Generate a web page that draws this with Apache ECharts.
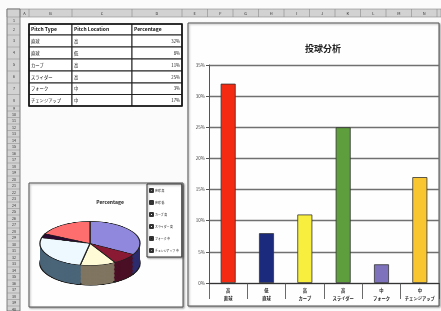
<!DOCTYPE html>
<html>
<head>
<meta charset="utf-8">
<script src="https://cdn.jsdelivr.net/npm/echarts@6/dist/echarts.min.js"></script>
<style>
  html, body { margin: 0; padding: 0; background: #fbfbfb; }
  #main { position: absolute; left: 0; top: 0; width: 441px; height: 311px; }
  /* the 3D pie: drawn round, squashed by css */
  #pie { position: absolute; left: 30px; top: 217px; width: 120px; height: 180px;
         transform: scaleY(0.44); transform-origin: 0 0; }
</style>
</head>
<body>
<div id="main"></div>
<div id="pie"></div>
<script>
// data
const pitchTypes = ['直球', '直球', 'カーブ', 'スライダー', 'フォーク', 'チェンジアップ'];
const pitchLocations = ['高', '低', '高', '高', '中', '中'];
const percentages = [32, 8, 11, 25, 3, 17];
const tableHeaders = ['Pitch Type', 'Pitch Location', 'Percentage'];
const colLetters = ['A', 'B', 'C', 'D', 'E', 'F', 'G', 'H', 'I', 'J', 'K', 'L', 'M', 'N', 'O'];

// styles
const barColors = ['#f42a12', '#1c2a7e', '#f7ee3e', '#5f9e3c', '#7e72bd', '#f9c630'];
const pieTop = ['#8f88dc', '#8a1a34', '#fffbd6', '#eef9ff', '#2a0a30', '#ff6e6e'];
const pieSide = ['#2c2c6e', '#4a0f24', '#7f7560', '#4a6478', '#1a0a1c', '#7a3030'];
const FONT = '"Noto Sans CJK JP", "Noto Sans", sans-serif';

// sheet grid
const colEdges = [20, 29, 72, 132, 182, 207.5, 233, 258.5, 284, 309.5, 335, 360.5, 386, 411.5, 437, 462];
const rowEdges = [17, 24, 35, 47, 59, 71, 83, 94.5, 106, 111];
while (rowEdges[rowEdges.length - 1] < 311) rowEdges.push(rowEdges[rowEdges.length - 1] + 6.5);

const pieNames = pitchTypes.map((t, i) => t + ' ' + pitchLocations[i]);
const categories = pitchTypes.map((t, i) => pitchLocations[i] + '\n' + t);

const els = [];
// column header
els.push({ type: 'rect', z: -10, shape: { x: 7, y: 9, width: 434, height: 8 },
  style: { fill: '#d2d2d2', stroke: '#8a8a8a', lineWidth: 0.6 } });
colLetters.forEach((c, i) => {
  els.push({ type: 'line', z: -9, shape: { x1: colEdges[i], y1: 9, x2: colEdges[i], y2: 17 },
    style: { stroke: '#8a8a8a', lineWidth: 0.6 } });
  els.push({ type: 'text', z: -9, x: (colEdges[i] + colEdges[i + 1]) / 2, y: 13,
    style: { text: c, fill: '#333', font: '4px ' + FONT, align: 'center', verticalAlign: 'middle' } });
});
// row header
els.push({ type: 'rect', z: -10, shape: { x: 7, y: 9, width: 13, height: 302 },
  style: { fill: '#d2d2d2', stroke: '#666', lineWidth: 0.8 } });
for (let i = 0; i < rowEdges.length - 1; i++) {
  els.push({ type: 'line', z: -9, shape: { x1: 7, y1: rowEdges[i], x2: 20, y2: rowEdges[i] },
    style: { stroke: '#8a8a8a', lineWidth: 0.5 } });
  els.push({ type: 'text', z: -9, x: 14, y: (rowEdges[i] + rowEdges[i + 1]) / 2,
    style: { text: String(i + 1), fill: '#333', font: '3.6px ' + FONT, align: 'center', verticalAlign: 'middle' } });
}

// table
for (let r = 0; r <= pitchTypes.length; r++) {
  const y0 = rowEdges[r + 1], y1 = rowEdges[r + 2];
  for (let c = 0; c < 3; c++) {
    const x0 = colEdges[c + 1], x1 = colEdges[c + 2];
    els.push({ type: 'rect', z: -8, shape: { x: x0, y: y0, width: x1 - x0, height: y1 - y0 },
      style: { fill: '#fff', stroke: '#222', lineWidth: 1 } });
    let txt, bold = false, right = false;
    if (r === 0) { txt = tableHeaders[c]; bold = true; }
    else if (c === 0) txt = pitchTypes[r - 1];
    else if (c === 1) txt = pitchLocations[r - 1];
    else { txt = percentages[r - 1] + '%'; right = true; }
    els.push({ type: 'text', z: -7, x: right ? x1 - 2 : x0 + 2, y: (y0 + y1) / 2,
      style: { text: txt, fill: '#111', font: (bold ? 'bold ' : '') + (r === 0 ? '5px ' : '4.3px ') + FONT,
        align: right ? 'right' : 'left', verticalAlign: 'middle' } });
  }
}
els.push({ type: 'rect', z: -7, shape: { x: colEdges[1], y: rowEdges[1], width: colEdges[4] - colEdges[1], height: rowEdges[8] - rowEdges[1] },
  style: { fill: 'none', stroke: '#111', lineWidth: 1.6 } });

// chart boxes
els.push({ type: 'rect', z: -8, shape: { x: 188, y: 23, width: 251, height: 283 },
  style: { fill: '#fefefe', stroke: '#555', lineWidth: 1, shadowBlur: 2, shadowOffsetX: 1, shadowOffsetY: 1, shadowColor: 'rgba(0,0,0,0.35)' } });
els.push({ type: 'rect', z: -8, shape: { x: 29, y: 183, width: 154, height: 124 },
  style: { fill: '#fefefe', stroke: '#555', lineWidth: 1, shadowBlur: 2, shadowOffsetX: 1, shadowOffsetY: 1, shadowColor: 'rgba(0,0,0,0.35)' } });

const chart = echarts.init(document.getElementById('main'));
chart.setOption({
  animation: false,
  backgroundColor: '#fbfbfb',
  textStyle: { fontFamily: FONT },
  graphic: { elements: els },
  title: [
    { text: '投球分析', left: 318, top: 39, textAlign: 'center',
      textStyle: { fontSize: 9, fontWeight: 'bold', color: '#222', fontFamily: FONT } },
    { text: 'Percentage', left: 105, top: 195, textAlign: 'center',
      textStyle: { fontSize: 5, fontWeight: 'bold', color: '#222', fontFamily: FONT } }
  ],
  legend: {
    orient: 'vertical', left: 147, top: 184, padding: [4, 3, 4, 2],
    backgroundColor: '#fff', borderColor: '#333', borderWidth: 1,
    shadowBlur: 2, shadowOffsetX: 1, shadowOffsetY: 1, shadowColor: 'rgba(0,0,0,0.35)',
    icon: 'rect', itemWidth: 3, itemHeight: 3, itemGap: 7,
    textStyle: { fontSize: 2.9, color: '#111', padding: [0, 0, 0, -3] },
    data: pieNames
  },
  grid: { left: 209, right: 2, top: 65, bottom: 28, containLabel: false },
  xAxis: {
    type: 'category', data: categories,
    axisLine: { lineStyle: { color: '#333', width: 1 } },
    axisTick: { show: true, length: 16, lineStyle: { color: '#444', width: 0.8 } },
    axisLabel: { interval: 0, fontSize: 4.3, fontWeight: 'bold', color: '#222', margin: 3, lineHeight: 8, hideOverlap: false }
  },
  yAxis: {
    type: 'value', min: 0, max: 35, interval: 5,
    axisLine: { show: true, lineStyle: { color: '#555', width: 1 } },
    axisTick: { show: true, length: 3, lineStyle: { color: '#555' } },
    axisLabel: { formatter: '{value}%', fontSize: 4.5, color: '#444', margin: 4 },
    splitLine: { lineStyle: { color: '#707070', width: 1.3 } }
  },
  series: [
    {
      type: 'bar', barWidth: 15,
      data: percentages.map((v, i) => ({ value: v,
        itemStyle: { color: barColors[i], borderColor: '#333', borderWidth: 0.8 } }))
    },
    {
      // only feeds the legend, the visible pie is in #pie
      type: 'pie', center: [-50, -50], radius: 1, silent: true,
      label: { show: false }, labelLine: { show: false },
      data: percentages.map((v, i) => ({ value: v, name: pieNames[i],
        itemStyle: { color: pieTop[i], borderColor: '#333', borderWidth: 0.5 } }))
    }
  ]
});

// 3D pie: stacked dark layers for the side, then the top face
const pie = echarts.init(document.getElementById('pie'));
const layers = 15, step = 3;
const pieSeries = [];
for (let k = layers; k >= 1; k--) {
  pieSeries.push({
    type: 'pie', center: [60, 60 + k * step], radius: 50, startAngle: 90, silent: true,
    label: { show: false }, labelLine: { show: false },
    data: percentages.map((v, i) => ({ value: v, name: pieNames[i],
      itemStyle: { color: pieSide[i], borderColor: '#1a1a1a', borderWidth: k === layers ? 1.5 : 0 } }))
  });
}
pieSeries.push({
  type: 'pie', center: [60, 60], radius: 50, startAngle: 90, silent: true,
  label: { show: false }, labelLine: { show: false },
  data: percentages.map((v, i) => ({ value: v, name: pieNames[i],
    itemStyle: { color: pieTop[i], borderColor: '#222', borderWidth: 1.3 } }))
});
pie.setOption({ animation: false, series: pieSeries });
</script>
</body>
</html>
